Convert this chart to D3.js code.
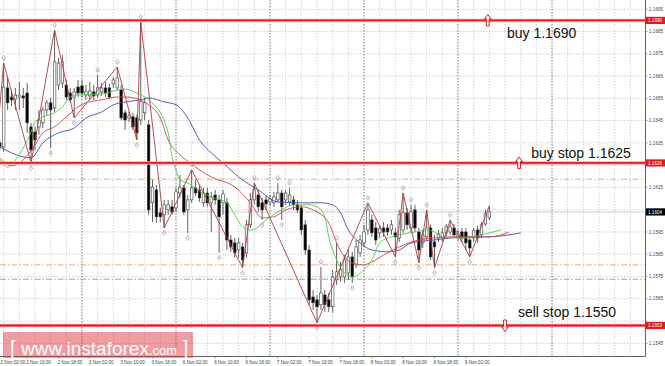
<!DOCTYPE html>
<html>
<head>
<meta charset="utf-8">
<script src="https://cdn.jsdelivr.net/npm/d3@7"></script>
<style>
body { margin: 0; background: #fff; }
svg { display: block; }
text { font-family: Arial, "Liberation Sans", sans-serif; }
</style>
</head>
<body>
<svg id="chart" width="665" height="366"></svg>
<script>
// EURUSD H1, one bar per hour; bar 0 = 2 Nov 00:00
var firstBar = 2;
var openPrices = [1.16431,1.16350,1.16332,1.16597,1.16556,1.16547,1.16556,1.16561,1.16574,1.16422,1.16399,1.16422,1.16440,1.16498,1.16530,1.16507,1.16610,1.16619,1.16610,1.16574,1.16556,1.16601,1.16606,1.16565,1.16561,1.16579,1.16565,1.16579,1.16597,1.16597,1.16615,1.16597,1.16588,1.16485,1.16462,1.16467,1.16462,1.16453,1.16485,1.16431,1.16081,1.16139,1.16036,1.16027,1.16049,1.16063,1.16058,1.16125,1.16148,1.16049,1.16094,1.16148,1.16139,1.16081,1.16125,1.16081,1.16116,1.16094,1.16081,1.16081,1.15914,1.15901,1.15869,1.15883,1.15856,1.15982,1.16094,1.16116,1.16081,1.16094,1.16085,1.16081,1.16094,1.16125,1.16094,1.16085,1.16094,1.16072,1.16058,1.15982,1.15869,1.15658,1.15645,1.15623,1.15667,1.15645,1.15614,1.15735,1.15748,1.15748,1.15766,1.15838,1.15802,1.15856,1.15901,1.15959,1.16004,1.15968,1.15946,1.15968,1.15968,1.15959,1.15946,1.15923,1.15959,1.16036,1.15968,1.16049,1.15950,1.15901,1.15928,1.15968,1.15905,1.15923,1.15923,1.15946,1.15950,1.15968,1.15928,1.15950,1.15950,1.15914,1.15923,1.15959,1.15937,1.15986,1.16013];
var highPrices = [1.16462,1.16363,1.16709,1.16646,1.16588,1.16597,1.16624,1.16597,1.16619,1.16440,1.16422,1.16498,1.16512,1.16543,1.16552,1.16857,1.16732,1.16745,1.16633,1.16597,1.16597,1.16633,1.16633,1.16610,1.16624,1.16610,1.16655,1.16619,1.16624,1.16615,1.16646,1.16691,1.16610,1.16498,1.16489,1.16485,1.16476,1.16893,1.16552,1.16453,1.16184,1.16161,1.16058,1.16094,1.16094,1.16094,1.16148,1.16206,1.16161,1.16116,1.16229,1.16184,1.16161,1.16148,1.16148,1.16130,1.16139,1.16116,1.16139,1.16103,1.15937,1.15923,1.15923,1.15901,1.16004,1.16125,1.16170,1.16139,1.16103,1.16116,1.16116,1.16130,1.16170,1.16139,1.16139,1.16148,1.16112,1.16094,1.16072,1.16004,1.15892,1.15690,1.15667,1.15793,1.15690,1.15676,1.15780,1.15901,1.15816,1.15847,1.15869,1.15861,1.15914,1.15937,1.15982,1.16081,1.16027,1.15995,1.15982,1.15995,1.15986,1.16004,1.15968,1.16049,1.16125,1.16058,1.16072,1.16072,1.15968,1.15959,1.16049,1.15982,1.15937,1.15959,1.15968,1.15986,1.16004,1.15986,1.15959,1.15968,1.15968,1.15932,1.15968,1.15977,1.15995,1.16049,1.16067];
var lowPrices = [1.16310,1.16318,1.16310,1.16498,1.16516,1.16498,1.16498,1.16507,1.16395,1.16260,1.16318,1.16386,1.16417,1.16476,1.16327,1.16489,1.16588,1.16597,1.16543,1.16530,1.16462,1.16556,1.16556,1.16543,1.16543,1.16543,1.16552,1.16561,1.16556,1.16547,1.16597,1.16588,1.16453,1.16408,1.16444,1.16408,1.16363,1.16431,1.16453,1.16027,1.15995,1.15991,1.15995,1.15968,1.16027,1.16027,1.16040,1.16103,1.16027,1.15946,1.16081,1.16112,1.16085,1.16063,1.16063,1.15950,1.16072,1.15856,1.16027,1.15869,1.15861,1.15834,1.15834,1.15789,1.15834,1.15968,1.16072,1.16040,1.16004,1.16049,1.16067,1.16063,1.16081,1.16004,1.16072,1.16067,1.16049,1.16036,1.15937,1.15847,1.15623,1.15600,1.15542,1.15600,1.15591,1.15591,1.15587,1.15712,1.15726,1.15721,1.15735,1.15721,1.15789,1.15838,1.15883,1.15937,1.15928,1.15892,1.15923,1.15928,1.15932,1.15937,1.15838,1.15905,1.15946,1.15959,1.15950,1.15950,1.15811,1.15878,1.15914,1.15825,1.15789,1.15905,1.15905,1.15928,1.15937,1.15923,1.15914,1.15905,1.15869,1.15838,1.15905,1.15901,1.15923,1.15977,1.16004];
var closePrices = [1.16341,1.16332,1.16601,1.16530,1.16543,1.16565,1.16565,1.16552,1.16440,1.16318,1.16363,1.16453,1.16498,1.16530,1.16498,1.16714,1.16709,1.16714,1.16556,1.16543,1.16579,1.16574,1.16574,1.16579,1.16583,1.16561,1.16597,1.16597,1.16574,1.16556,1.16633,1.16642,1.16462,1.16453,1.16471,1.16422,1.16395,1.16534,1.16530,1.16049,1.16152,1.16018,1.16018,1.16072,1.16072,1.16040,1.16130,1.16148,1.16040,1.16094,1.16148,1.16125,1.16103,1.16125,1.16081,1.16107,1.16094,1.16018,1.16121,1.15914,1.15883,1.15856,1.15901,1.15825,1.15982,1.16094,1.16139,1.16063,1.16049,1.16076,1.16098,1.16107,1.16125,1.16063,1.16125,1.16116,1.16072,1.16049,1.15959,1.15869,1.15645,1.15632,1.15614,1.15676,1.15623,1.15614,1.15748,1.15771,1.15780,1.15825,1.15838,1.15748,1.15883,1.15914,1.15950,1.16049,1.15946,1.15914,1.15964,1.15950,1.15950,1.15982,1.15928,1.16027,1.16036,1.15982,1.16040,1.15968,1.15869,1.15937,1.15968,1.15838,1.15883,1.15941,1.15946,1.15973,1.15973,1.15937,1.15941,1.15923,1.15901,1.15878,1.15955,1.15923,1.15982,1.16031,1.16040];

// zigzag turning bars (alternating low / high, starting with a low)
var zigzagBars = [2,4,11,17,22,33,38,39,45,52,65,68,84,97,104,106,110,112,114,118,123,128];
var upFractalBars = [4,17,28,33,39,52,68,74,77,85,89,97,106,108,112,118];
var downFractalBars = [11,16,22,38,45,51,59,65,70,75,84,93,104,110,114,123];

// Alligator lines (bar, price)
var jawBars = [3,6,11,14,18,22,25,29,32,35,39,41,45,48,51,54,57,60,64,69,74,80,85,88,90,92,95,98,102,105,108,114,118,122,127,131,136];
var jawValues = [1.16332,1.16305,1.16283,1.16350,1.16395,1.16417,1.16462,1.16489,1.16521,1.16534,1.16543,1.16552,1.16534,1.16521,1.16462,1.16363,1.16305,1.16260,1.16197,1.16139,1.16085,1.16081,1.16081,1.16072,1.16036,1.15959,1.15901,1.15869,1.15861,1.15869,1.15901,1.15914,1.15923,1.15928,1.15928,1.15932,1.15946];
var teethBars = [3,6,9,12,14,17,20,23,25,29,33,35,39,41,44,46,49,52,54,57,63,67,70,73,76,80,83,87,89,91,93,96,98,102,105,110,114,118,122,126,128,131,133];
var teethValues = [1.16283,1.16247,1.16274,1.16341,1.16395,1.16422,1.16467,1.16512,1.16530,1.16543,1.16556,1.16556,1.16543,1.16521,1.16462,1.16363,1.16296,1.16256,1.16229,1.16197,1.16152,1.16081,1.16013,1.16018,1.16049,1.16063,1.16049,1.15991,1.15901,1.15838,1.15811,1.15802,1.15816,1.15856,1.15883,1.15914,1.15923,1.15928,1.15928,1.15928,1.15928,1.15937,1.15950];
var lipsBars = [3,5,7,9,11,12,14,17,19,21,23,29,35,38,40,42,46,47,48,49,51,54,57,61,63,65,67,69,71,75,78,82,84,86,87,89,91,93,96,98,100,103,105,109,112,114,116,120,123,126,129,131];
var lipsValues = [1.16274,1.16242,1.16274,1.16327,1.16399,1.16444,1.16467,1.16485,1.16512,1.16556,1.16565,1.16570,1.16592,1.16574,1.16556,1.16530,1.16395,1.16287,1.16229,1.16184,1.16170,1.16134,1.16107,1.16081,1.16027,1.15973,1.15959,1.15973,1.16004,1.16049,1.16072,1.16072,1.16063,1.16018,1.15928,1.15825,1.15766,1.15748,1.15780,1.15825,1.15901,1.15928,1.15937,1.15950,1.15959,1.15950,1.15928,1.15923,1.15923,1.15937,1.15950,1.15959];

// axis labels
var dayLabels = ["2 Nov","3 Nov","6 Nov","7 Nov","8 Nov","9 Nov"];
var hourLabels = ["02:00","10:00","18:00"];
var hourOffsets = [2,10,18];
var priceTicks = [1.1545,1.1555,1.1565,1.1575,1.1585,1.1595,1.1605,1.1615,1.1625,1.1635,1.1645,1.1655,1.1665,1.1675,1.1685,1.1695];

// trade levels
var levelPrices = [1.1690, 1.1626, 1.1553];
var levelNames = ["buy 1.1690", "buy stop 1.1625", "sell stop 1.1550"];
var levelDirs = ["up", "up", "down"];
var orderPrices = [1.16187, 1.15802, 1.15738];
var orderKinds = ["orange", "orange", "green"];
var currentPrice = 1.1604;

// layout
var plotW = 645, plotH = 356;
var svg = d3.select('#chart');
var x = d3.scaleLinear().domain([0, 168]).range([-12, 646]);
var y = d3.scaleLinear().domain([1.1545, 1.1695]).range([343.3, 9.3]);

svg.append('defs').append('clipPath').attr('id', 'plotClip')
  .append('rect').attr('x', 0).attr('y', 0).attr('width', plotW).attr('height', plotH);

var plot = svg.append('g').attr('clip-path', 'url(#plotClip)');

// grid
plot.selectAll('line.hgrid').data(priceTicks).enter().append('line')
  .attr('x1', 0).attr('x2', plotW)
  .attr('y1', function(d) { return y(d); }).attr('y2', function(d) { return y(d); })
  .style('stroke', '#c4c4c4').style('stroke-width', 0.8).style('stroke-dasharray', '1.5,1.5');

var vgrid = d3.range(0, 169, 4);
plot.selectAll('line.vgrid').data(vgrid).enter().append('line')
  .attr('x1', function(d) { return x(d); }).attr('x2', function(d) { return x(d); })
  .attr('y1', 0).attr('y2', plotH)
  .style('stroke', function(d) { return d % 24 === 0 ? '#505050' : '#c8c8c8'; })
  .style('stroke-width', 0.8)
  .style('stroke-dasharray', '1.5,1.5');

// pending order lines
plot.selectAll('line.order').data(orderPrices).enter().append('line')
  .attr('x1', 0).attr('x2', plotW)
  .attr('y1', function(d) { return y(d); }).attr('y2', function(d) { return y(d); })
  .style('stroke', function(d, i) { return orderKinds[i] === 'green' ? '#6fae6f' : '#e9a077'; })
  .style('stroke-width', 0.9)
  .style('stroke-dasharray', '6,2,1.5,2');

// current price line
plot.append('line')
  .attr('x1', 0).attr('x2', plotW)
  .attr('y1', y(currentPrice)).attr('y2', y(currentPrice))
  .style('stroke', '#c8c8c8').style('stroke-width', 0.9);

// candles
var bars = openPrices.map(function(o, k) {
  return { i: firstBar + k, o: o, h: highPrices[k], l: lowPrices[k], c: closePrices[k] };
});
var candle = plot.append('g').selectAll('g').data(bars).enter().append('g');
candle.append('line')
  .attr('x1', function(d) { return x(d.i); }).attr('x2', function(d) { return x(d.i); })
  .attr('y1', function(d) { return y(d.h); }).attr('y2', function(d) { return y(d.l); })
  .style('stroke', '#3a3a3a').style('stroke-width', 0.8);
candle.append('rect')
  .attr('x', function(d) { return x(d.i) - 1.3; })
  .attr('width', 2.6)
  .attr('y', function(d) { return y(Math.max(d.o, d.c)); })
  .attr('height', function(d) { return Math.max(0.8, Math.abs(y(d.o) - y(d.c))); })
  .style('fill', function(d) { return d.c >= d.o ? '#fff' : '#000'; })
  .style('stroke', '#3a3a3a').style('stroke-width', 0.6);

// alligator
var maLine = d3.line()
  .x(function(d) { return x(d[0]); })
  .y(function(d) { return y(d[1]); })
  .curve(d3.curveMonotoneX);
function drawMA(barsArr, vals, color) {
  plot.append('path')
    .datum(d3.zip(barsArr, vals))
    .attr('d', maLine)
    .style('fill', 'none').style('stroke', color).style('stroke-width', 0.9);
}
drawMA(jawBars, jawValues, '#4a4aa6');
drawMA(teethBars, teethValues, '#d04848');
drawMA(lipsBars, lipsValues, '#4ccc4c');

// zigzag
var zz = zigzagBars.map(function(b, k) {
  var d = bars[b - firstBar];
  return [b, k % 2 === 0 ? d.l : d.h];
});
plot.append('path')
  .datum(zz)
  .attr('d', d3.line().x(function(d) { return x(d[0]); }).y(function(d) { return y(d[1]); }))
  .style('fill', 'none').style('stroke', '#b03a3a').style('stroke-width', 0.9);

// fractals
var fracPath = 'M0,-2.6 L2,0 L0.8,0 L0.8,2 L-0.8,2 L-0.8,0 L-2,0 Z';
plot.selectAll('path.fup').data(upFractalBars).enter().append('path')
  .attr('d', fracPath)
  .attr('transform', function(b) { return 'translate(' + x(b) + ',' + (y(bars[b - firstBar].h) - 5) + ')'; })
  .style('fill', 'none').style('stroke', '#9a9a9a').style('stroke-width', 0.6);
plot.selectAll('path.fdn').data(downFractalBars).enter().append('path')
  .attr('d', fracPath)
  .attr('transform', function(b) { return 'translate(' + x(b) + ',' + (y(bars[b - firstBar].l) + 5) + ') rotate(180)'; })
  .style('fill', 'none').style('stroke', '#9a9a9a').style('stroke-width', 0.6);

// trade levels
var levelArrowBar = [127.6, 135.6, 132.0];
var levelTextBar = [132.5, 138.7, 135.3];
var levelTextDy = [18, -5, -8.5];
plot.selectAll('line.levelHalo').data(levelPrices).enter().append('line')
  .attr('x1', 0).attr('x2', plotW)
  .attr('y1', function(d) { return y(d); }).attr('y2', function(d) { return y(d); })
  .style('stroke', '#f5b0b0').style('stroke-width', 3.4);
plot.selectAll('line.level').data(levelPrices).enter().append('line')
  .attr('x1', 0).attr('x2', plotW)
  .attr('y1', function(d) { return y(d); }).attr('y2', function(d) { return y(d); })
  .style('stroke', '#e01b1b').style('stroke-width', 1.8);

var arrowPath = 'M0,-6 L3.3,-1.6 L1.4,-1.6 L1.4,5.5 L-1.4,5.5 L-1.4,-1.6 L-3.3,-1.6 Z';
plot.selectAll('path.levelArrow').data(levelPrices).enter().append('path')
  .attr('d', arrowPath)
  .attr('transform', function(d, i) {
    return 'translate(' + x(levelArrowBar[i]) + ',' + y(d) + ')' + (levelDirs[i] === 'down' ? ' rotate(180)' : '');
  })
  .style('fill', '#fff').style('stroke', '#e01b1b').style('stroke-width', 1);

plot.selectAll('text.levelText').data(levelPrices).enter().append('text')
  .attr('x', function(d, i) { return x(levelTextBar[i]); })
  .attr('y', function(d, i) { return y(d) + levelTextDy[i]; })
  .text(function(d, i) { return levelNames[i]; })
  .style('font-size', '14px').style('fill', '#111');

// axes frame
svg.append('line').attr('x1', plotW + 0.5).attr('x2', plotW + 0.5).attr('y1', 0).attr('y2', plotH + 0.5)
  .style('stroke', '#606060').style('stroke-width', 1);
svg.append('line').attr('x1', 0).attr('x2', plotW + 0.5).attr('y1', plotH + 0.5).attr('y2', plotH + 0.5)
  .style('stroke', '#606060').style('stroke-width', 1);

// price axis (labels under a price tag are hidden, as in the terminal)
var tagPrices = levelPrices.concat([currentPrice]);
var shownTicks = priceTicks.filter(function(p) {
  return tagPrices.every(function(t) { return Math.abs(y(p) - y(t)) > 4.5; });
});
svg.selectAll('line.ytick').data(priceTicks).enter().append('line')
  .attr('x1', plotW).attr('x2', plotW + 2.5)
  .attr('y1', function(d) { return y(d); }).attr('y2', function(d) { return y(d); })
  .style('stroke', '#606060').style('stroke-width', 0.6);
svg.selectAll('text.ytick').data(shownTicks).enter().append('text')
  .attr('x', plotW + 4).attr('y', function(d) { return y(d) + 1.6; })
  .text(d3.format('.4f'))
  .style('font-size', '4.6px').style('fill', '#444');

// time axis
var timeTicks = [];
dayLabels.forEach(function(day, di) {
  hourOffsets.forEach(function(h, hi) {
    var b = di * 24 + h;
    if (b <= firstBar + openPrices.length - 1) timeTicks.push({ b: b, label: day + ' ' + hourLabels[hi] });
  });
});
svg.selectAll('line.xtick').data(timeTicks).enter().append('line')
  .attr('x1', function(d) { return x(d.b); }).attr('x2', function(d) { return x(d.b); })
  .attr('y1', plotH).attr('y2', plotH + 2.5)
  .style('stroke', '#606060').style('stroke-width', 0.6);
svg.selectAll('text.xtick').data(timeTicks).enter().append('text')
  .attr('x', function(d) { return Math.max(0.5, x(d.b) - 1); }).attr('y', plotH + 7.5)
  .text(function(d) { return d.label; })
  .style('font-size', '4.6px').style('fill', '#444');

// price tags
function tag(price, color) {
  var g = svg.append('g');
  g.append('rect').attr('x', plotW + 1).attr('y', y(price) - 3.6).attr('width', 19).attr('height', 7.2)
    .style('fill', color);
  g.append('text').attr('x', plotW + 3).attr('y', y(price) + 1.6)
    .text(d3.format('.4f')(price))
    .style('font-size', '4.6px').style('fill', '#fff');
}
levelPrices.forEach(function(p) { tag(p, '#e01b1b'); });
tag(currentPrice, '#000');

// watermark
svg.append('rect').attr('x', 3).attr('y', 332).attr('width', 190).attr('height', 26)
  .style('fill', 'rgb(225,60,70)').style('fill-opacity', 0.5);
var wm = svg.append('text').attr('x', 10).attr('y', 355).style('fill', '#fff');
wm.append('tspan').text('[ ').style('font-size', '20px');
wm.append('tspan').text('www.instaforex').style('font-size', '19px');
wm.append('tspan').text('.com').style('font-size', '13px');
wm.append('tspan').text(' ]').style('font-size', '20px');
</script>
</body>
</html>
